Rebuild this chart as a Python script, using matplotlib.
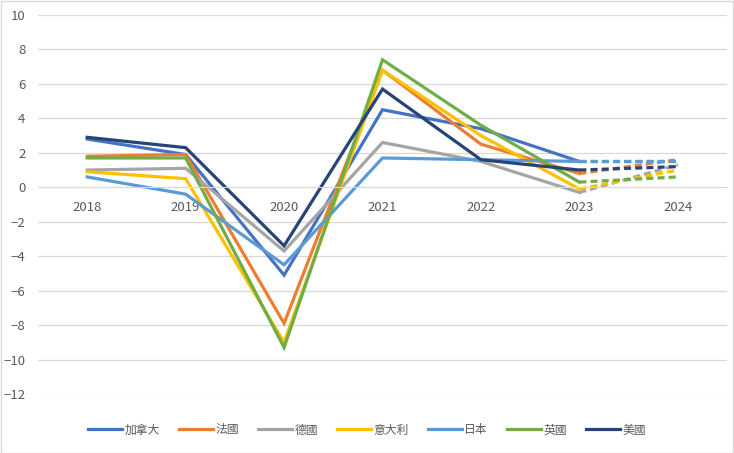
import matplotlib.pyplot as plt
from matplotlib.lines import Line2D
from matplotlib.patches import Rectangle

plt.rcParams['font.family'] = ['Noto Sans CJK TC', 'DejaVu Sans']

years = ['2018', '2019', '2020', '2021', '2022', '2023', '2024']
names = ['加拿大', '法國', '德國', '意大利', '日本', '英國', '美國']
colors = ['#4472C4', '#ED7D31', '#A5A5A5', '#FFC000', '#5B9BD5', '#70AD47', '#264478']

canada  = [2.8, 1.9, -5.1, 4.5, 3.4, 1.5, 1.5]
france  = [1.8, 1.9, -7.9, 6.8, 2.5, 0.8, 1.6]
germany = [1.0, 1.1, -3.7, 2.6, 1.5, -0.3, 1.3]
italy   = [0.9, 0.5, -9.0, 6.8, 3.0, -0.1, 1.0]
japan   = [0.6, -0.4, -4.5, 1.7, 1.6, 1.5, 1.5]
uk      = [1.7, 1.7, -9.3, 7.4, 3.6, 0.3, 0.6]
usa     = [2.9, 2.3, -3.4, 5.7, 1.6, 1.0, 1.2]
series = [canada, france, germany, italy, japan, uk, usa]

fig = plt.figure(figsize=(7.34, 4.53), dpi=100)
ax = fig.add_axes([38/734, 1-394/453, 689/734, 379/453])

x = list(range(len(years)))
for vals, c in zip(series, colors):
    ax.plot(x[:6], vals[:6], color=c, lw=2.3, solid_joinstyle='miter')
    ax.plot(x[5:], vals[5:], color=c, lw=2.3, ls=(0, (2.2, 1.3)))

ax.set_xlim(-0.5, 6.5)
ax.set_ylim(-12, 10)
ax.set_yticks(range(-12, 11, 2))
ax.grid(axis='y', color='#D9D9D9', lw=0.9)
ax.set_axisbelow(True)
for s in ['top', 'right', 'left']:
    ax.spines[s].set_visible(False)
ax.spines['bottom'].set_position(('data', 0))
ax.spines['bottom'].set_color('#D9D9D9')
ax.set_xticks(x)
ax.set_xticklabels(years)
ax.tick_params(axis='both', length=0, colors='#595959', labelsize=9.5)
ax.tick_params(axis='x', pad=10)
ax.tick_params(axis='y', pad=9)

handles = [Line2D([], [], color=c, lw=2.3) for c in colors]
fig.legend(handles, names, loc='center', bbox_to_anchor=(0.5, 1-430/453), ncol=7,
           frameon=False, fontsize=8.5, handlelength=2.9, handletextpad=0.2,
           columnspacing=1.6, labelcolor='#595959')

fig.patches.append(Rectangle((0.001, 0.001), 0.998, 0.997, transform=fig.transFigure,
                             fill=False, edgecolor='#D9D9D9', lw=1))

fig.savefig('out.png', dpi=100)
